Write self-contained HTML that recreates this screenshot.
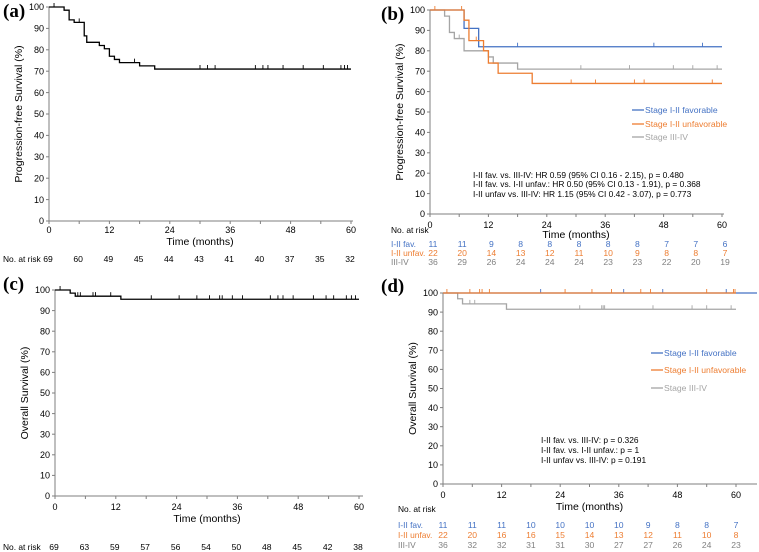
<!DOCTYPE html>
<html><head><meta charset="utf-8"><style>
html,body{margin:0;padding:0;background:#fff;}
svg{display:block;font-family:"Liberation Sans",Arial,sans-serif;}
.pl{font-family:"Liberation Serif",serif;font-weight:bold;font-size:19px;}
</style></head><body>
<svg id="fig" width="759" height="552" viewBox="0 0 759 552"></svg>
<script>
// Panel a: PFS overall
const aSteps=[[0,100],[3,98.5],[4,94],[5,92.8],[7,86.5],[7.5,83.5],[10,82],[11,80.5],[12,77],[13,75.5],[14,74],[18,72.5],[21,71]];
const aCens=[1,6,17,30,31.5,33,41,42.5,43.5,46.5,50.5,54.5,58,58.7,59.3];
const aRisk=[69,60,49,45,44,43,41,40,37,35,32];
// Panel b: PFS by stage
const bFavSteps=[[0,100],[7,91],[10,82]];
const bFavCens=[18,46,56];
const bUnfSteps=[[0,100],[7,95],[8,85],[11,80],[12,74],[14,69],[21,64]];
const bUnfCens=[1,6.5,9.5,29,34,42,44,58];
const bAdvSteps=[[0,100],[3,97],[4,89],[5,86],[7,80],[12,77],[13,74],[18,71]];
const bAdvCens=[6,31,41,50,54,59];
const bRiskFav=[11,11,9,8,8,8,8,8,7,7,6];
const bRiskUnf=[22,20,14,13,12,11,10,9,8,8,7];
const bRiskAdv=[36,29,26,24,24,24,23,23,22,20,19];
// Panel c: OS overall
const cSteps=[[0,100],[3,98.5],[4,97],[13,95.5]];
const cCens=[1,4.5,5,7.5,8,11,19,24.5,28,30.5,32.5,33,35,37,42.5,44,45,47,51,53.5,55,57.5,58.5,59.3];
const cRisk=[69,63,59,57,56,54,50,48,45,42,38];
// Panel d: OS by stage
const dFavSteps=[[0,100]];
const dFavCens=[20,37,45,58];
const dUnfSteps=[[0,100]];
const dUnfCens=[0.8,5.5,7.5,8,9.5,25,30.5,34.5,40.5,42.5,54,59.5,59.8];
const dAdvSteps=[[0,100],[3,97],[4,94.3],[13,91.5]];
const dAdvCens=[5.5,6.5,28,32.5,32.8,33.1,43,51,54,59];
const dRiskFav=[11,11,11,10,10,10,10,9,8,8,7];
const dRiskUnf=[22,20,16,16,15,14,13,12,11,10,8];
const dRiskAdv=[36,32,32,31,31,30,27,27,26,24,23];
const yTicks=[0,10,20,30,40,50,60,70,80,90,100];
const xTicks=[0,12,24,36,48,60];

const BLUE="#4472C4",ORG="#ED7D31",GRY="#A5A5A5",BLK="#000";
const svg=document.getElementById('fig');
const NS="http://www.w3.org/2000/svg";
function mk(tag,attrs,parent){const e=document.createElementNS(NS,tag);for(const k in attrs)e.setAttribute(k,attrs[k]);(parent||svg).appendChild(e);return e;}
function txt(s,x,y,opt,parent){const t=mk('text',Object.assign({x:x,y:y,'font-size':9,fill:'#000'},opt||{}),parent);t.textContent=s;return t;}

function panel(P){
  const g=mk('g',{});
  
  
  const sx=v=>P.x0+(P.x1-P.x0)*v/60, sy=v=>P.y0+(P.y100-P.y0)*v/100;
  const lab=txt(P.label,P.lx,P.ly,{'class':'pl','font-size':19},g);
  
  
  const ax=mk('g',{stroke:'#7f7f7f','stroke-width':1,fill:'none'},g);
  
  
  mk('line',{x1:P.x0,y1:sy(0),x2:P.x0,y2:sy(100)},ax);
  mk('line',{x1:P.x0,y1:sy(0),x2:P.xEnd,y2:sy(0)},ax);
  yTicks.forEach(v=>{
    mk('line',{x1:P.x0-3,y1:sy(v),x2:P.x0,y2:sy(v)},ax);
    const t=txt(String(v),P.x0-5,sy(v)+3.2,{'text-anchor':'end','font-size':9},g);
    
    
  });
  for(let m=0;m<=60;m+=6){mk('line',{x1:sx(m),y1:sy(0),x2:sx(m),y2:sy(0)+3},ax);}
  xTicks.forEach(v=>{
    const t=txt(String(v),sx(v),P.xlabY,{'text-anchor':'middle','font-size':9},g);
    
    
  });
  const xt=txt('Time (months)',(sx(0)+sx(60))/2,P.xtY,{'text-anchor':'middle','font-size':10.5},g);
  
  
  const ycx=P.x0-P.yOff, ycy=(sy(0)+sy(100))/2;
  const yt=txt(P.ytitle,ycx,ycy,{'text-anchor':'middle','font-size':10.5,transform:`rotate(-90 ${ycx} ${ycy})`},g);
  
  
  P.series.forEach(S=>{
    let d=`M${sx(S.steps[0][0])},${sy(S.steps[0][1])}`;
    for(let i=1;i<S.steps.length;i++){d+=` H${sx(S.steps[i][0])} V${sy(S.steps[i][1])}`;}
    d+=` H${sx(S.end||60)}`;
    const p=mk('path',{d:d,fill:'none',stroke:S.color,'stroke-width':1.3},g);
    
    
    S.cens.forEach(c=>{
      let yv=S.steps[0][1];S.steps.forEach(s=>{if(s[0]<=c)yv=s[1];});
      const l=mk('line',{x1:sx(c),y1:sy(yv),x2:sx(c),y2:sy(yv)-4,stroke:S.color,'stroke-width':0.9},g);
      
      
    });
  });
  if(P.legend){P.legend.forEach((L,i)=>{
    const y=P.legY[i];
    const ln=mk('line',{x1:P.legX,y1:y,x2:P.legX+12,y2:y,stroke:L.color,'stroke-width':1.3},g);
    
    
    const t=txt(L.t,P.legX+13,y+3.2,{fill:L.color,'font-size':8.6},g);
    
    
  });}
  if(P.stats){P.stats.forEach((s,i)=>{
    const t=txt(s,P.stX,P.stY[i],{'font-size':8.4},g);
    
    
  });}
  const nr=txt('No. at risk',P.nrX,P.nrY,{'font-size':8.4},g);
  
  
  P.risk.forEach(R=>{
    if(R.lbl){const t=txt(R.lbl,P.nrX,R.y,{fill:R.color,'font-size':8.4},g);
      
      }
    R.vals.forEach((v,i)=>{
      const t=txt(String(v),sx(i*6)+(R.dx||0),R.y,{'text-anchor':'middle',fill:R.color,'font-size':8.6},g);
      
      
    });
  });
}

panel({name:'panel-a',label:'(a)',lx:3,ly:17,x0:49,x1:351,xEnd:353,y0:221,y100:7,xlabY:233,xtY:245,yOff:27,ytitle:'Progression-free Survival (%)',
  series:[{nm:'overall',steps:aSteps,cens:aCens,color:BLK}],
  nrX:3,nrY:262,risk:[{vals:aRisk,y:262,color:BLK,dx:-1}]});
panel({name:'panel-b',label:'(b)',lx:381,ly:20,x0:430,x1:722,xEnd:724,y0:214,y100:10,xlabY:228,xtY:238,yOff:27,ytitle:'Progression-free Survival (%)',
  series:[{nm:'stage-adv',steps:bAdvSteps,cens:bAdvCens,color:GRY},{nm:'stage-fav',steps:bFavSteps,cens:bFavCens,color:BLUE},{nm:'stage-unfav',steps:bUnfSteps,cens:bUnfCens,color:ORG}],
  legend:[{t:'Stage I-II favorable',color:BLUE},{t:'Stage I-II unfavorable',color:ORG},{t:'Stage III-IV',color:GRY}],legX:632,legY:[110,124,137],
  stats:['I-II fav. vs. III-IV: HR 0.59 (95% CI 0.16 - 2.15), p = 0.480','I-II fav. vs. I-II unfav.: HR 0.50 (95% CI 0.13 - 1.91), p = 0.368','I-II unfav vs. III-IV: HR 1.15 (95% CI 0.42 - 3.07), p = 0.773'],stX:473,stY:[178,187,197],
  nrX:391,nrY:233,risk:[{lbl:'I-II fav.',vals:bRiskFav,y:247,color:BLUE,dx:3},{lbl:'I-II unfav.',vals:bRiskUnf,y:256,color:ORG,dx:3},{lbl:'III-IV',vals:bRiskAdv,y:265,color:'#808080',dx:3}]});
panel({name:'panel-c',label:'(c)',lx:3,ly:290,x0:55,x1:359,xEnd:363,y0:496,y100:290,xlabY:510,xtY:522,yOff:27,ytitle:'Overall Survival (%)',
  series:[{nm:'overall',steps:cSteps,cens:cCens,color:BLK}],
  nrX:3,nrY:550,risk:[{vals:cRisk,y:550,color:BLK,dx:-1}]});
panel({name:'panel-d',label:'(d)',lx:381,ly:292,x0:443,x1:736,xEnd:757,y0:484,y100:293,xlabY:498,xtY:510,yOff:27,ytitle:'Overall Survival (%)',
  series:[{nm:'stage-adv',steps:dAdvSteps,cens:dAdvCens,color:GRY},{nm:'stage-fav',steps:dFavSteps,cens:dFavCens,color:BLUE,end:64.3},{nm:'stage-unfav',steps:dUnfSteps,cens:dUnfCens,color:ORG}],
  legend:[{t:'Stage I-II favorable',color:BLUE},{t:'Stage I-II unfavorable',color:ORG},{t:'Stage III-IV',color:GRY}],legX:651,legY:[353,370,388],
  stats:['I-II fav. vs. III-IV: p = 0.326','I-II fav. vs. I-II unfav.: p = 1','I-II unfav vs. III-IV: p = 0.191'],stX:541,stY:[443,453,463],
  nrX:398,nrY:512,risk:[{lbl:'I-II fav.',vals:dRiskFav,y:528,color:BLUE},{lbl:'I-II unfav.',vals:dRiskUnf,y:538,color:ORG},{lbl:'III-IV',vals:dRiskAdv,y:548,color:'#808080'}]});
</script>
</body></html>
